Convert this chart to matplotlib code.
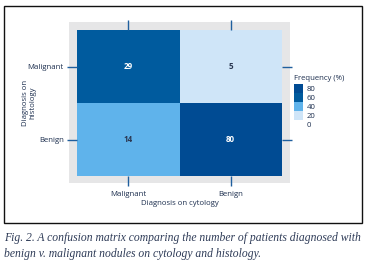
import numpy as np
import matplotlib.pyplot as plt
from matplotlib.colors import ListedColormap, BoundaryNorm
from matplotlib.patches import Rectangle

# data
histology = ["Malignant", "Benign"]
cytology = ["Malignant", "Benign"]
counts = np.array([[29, 5],
                   [14, 80]])
legend_ticks = [0, 20, 40, 60, 80]

caption = ("Fig. 2. A confusion matrix comparing the number of patients diagnosed with\n"
           "benign v. malignant nodules on cytology and histology.")

W, H = 367, 263
NAVY = "#1d2f4f"
TICK = "#1f5f9e"
cell_colors = ["#cfe5f8", "#5fb3eb", "#005b9e", "#004b93"]

plt.rcParams['font.family'] = ['Open Sans', 'DejaVu Sans']

fig = plt.figure(figsize=(W / 100, H / 100), dpi=100)

def box(x0, y0, x1, y1):
    # pixel box (top-left origin) -> figure fraction rect
    return [x0 / W, 1 - y1 / H, (x1 - x0) / W, (y1 - y0) / H]

def fx(x):
    return x / W

def fy(y):
    return 1 - y / H

# outer frame
fig.patches.append(Rectangle((4 / W, 1 - 223 / H), 358 / W, 217 / H,
                             transform=fig.transFigure, fill=False,
                             edgecolor="#111111", linewidth=1.0))
# grey panel behind the matrix
fig.patches.append(Rectangle((69 / W, 1 - 183 / H), 221 / W, 161 / H,
                             transform=fig.transFigure, facecolor="#e6e6e7",
                             edgecolor="none", zorder=-5))

ax = fig.add_axes(box(77, 30, 282, 176))
ax.patch.set_visible(False)
cmap = ListedColormap(cell_colors)
norm = BoundaryNorm([0, 10, 20, 50, 100], cmap.N)
ax.pcolormesh(np.arange(3), np.arange(3), counts, cmap=cmap, norm=norm)
for i in range(2):
    for j in range(2):
        v = counts[i, j]
        ax.text(j + 0.5, i + 0.5, str(v), ha="center", va="center",
                fontsize=5.8, fontweight="bold",
                color="white" if v > 20 else "#2a3650")
ax.set_xlim(0, 2)
ax.set_ylim(2, 0)
for s in ax.spines.values():
    s.set_visible(False)
ax.set_xticks([0.5, 1.5])
ax.set_xticklabels(cytology)
ax.set_yticks([0.5, 1.5])
ax.set_yticklabels(histology)
ax.tick_params(axis="both", direction="out", length=7.5, width=1.0, color=TICK,
               labelsize=5.6, labelcolor=NAVY, pad=2,
               top=True, right=True, bottom=True, left=True)
ax.tick_params(axis="x", pad=3)
ax.set_xlabel("Diagnosis on cytology", fontsize=5.6, color=NAVY, labelpad=2)
fig.text(fx(29), fy(103), "Diagnosis on\nhistology", fontsize=5.6, color=NAVY,
         rotation=90, ha="center", va="center", linespacing=1.0)

# legend colour bar
cax = fig.add_axes(box(294, 84, 303, 129))
lcmap = ListedColormap(["white"] + cell_colors)
lnorm = BoundaryNorm([-10, 10, 30, 50, 70, 90], lcmap.N)
cb = fig.colorbar(plt.cm.ScalarMappable(norm=lnorm, cmap=lcmap), cax=cax,
                  ticks=legend_ticks)
cb.outline.set_visible(False)
cax.minorticks_off()
cax.tick_params(length=0, labelsize=5.6, labelcolor=NAVY, pad=2.5)
fig.text(fx(294), fy(79), "Frequency (%)", fontsize=5.6, color=NAVY,
         ha="left", va="center")

fig.text(fx(4), fy(246), caption, fontsize=8.35, color="#2e3b57",
         family="Liberation Serif", style="italic", ha="left", va="center",
         linespacing=1.45)

fig.savefig("out.png", dpi=100)
